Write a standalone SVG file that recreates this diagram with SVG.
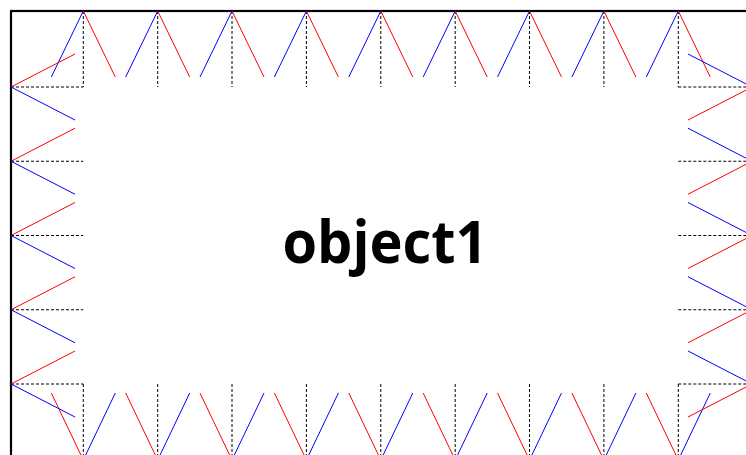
<svg xmlns="http://www.w3.org/2000/svg" width="746" height="455" viewBox="0 0 746 455">
<style>
.r{stroke:#ff0000;stroke-width:1;fill:none}
.b{stroke:#0000ff;stroke-width:1;fill:none}
.d{stroke:#000;stroke-width:1;stroke-dasharray:3,2;fill:none}
.frame{stroke:#000;stroke-width:2.2;fill:#fff}
.lbl{font-family:"Open Sans","Liberation Sans",sans-serif;font-weight:bold;font-size:59px;fill:#000}
</style>
<rect width="746" height="455" fill="#fff"/>
<g id="object1">
<rect class="frame" x="11" y="11" width="741" height="449"/>
<text class="lbl" x="385" y="263" text-anchor="middle" textLength="205" lengthAdjust="spacingAndGlyphs">object1</text>
</g>
<g id="connectors">
<g id="dashes">
<path class="d" d="M83.3,11V87M157.7,11V87M232,11V87M306.4,11V87M380.8,11V87M455.2,11V87M529.5,11V87M603.9,11V87M678.3,11V87"/>
<path class="d" d="M83.3,384V460M157.7,384V460M232,384V460M306.4,384V460M380.8,384V460M455.2,384V460M529.5,384V460M603.9,384V460M678.3,384V460"/>
<path class="d" d="M11,87H83.3M11,161.25H83.3M11,235.5H83.3M11,309.75H83.3M11,384H83.3"/>
<path class="d" d="M678.3,87H752M678.3,161.25H752M678.3,235.5H752M678.3,309.75H752M678.3,384H752"/>
</g>
<g id="top">
<path class="b" d="M51.3,77L83.3,11M125.7,77L157.7,11M200,77L232,11M274.4,77L306.4,11M348.8,77L380.8,11M423.2,77L455.2,11M497.5,77L529.5,11M571.9,77L603.9,11M646.3,77L678.3,11"/>
<path class="r" d="M83.3,11L115.3,77M157.7,11L189.7,77M232,11L264,77M306.4,11L338.4,77M380.8,11L412.8,77M455.2,11L487.2,77M529.5,11L561.5,77M603.9,11L635.9,77M678.3,11L710.3,77"/>
</g>
<g id="bottom">
<path class="r" d="M51.3,393L83.3,460M125.7,393L157.7,460M200,393L232,460M274.4,393L306.4,460M348.8,393L380.8,460M423.2,393L455.2,460M497.5,393L529.5,460M571.9,393L603.9,460M646.3,393L678.3,460"/>
<path class="b" d="M83.3,460L115.3,393M157.7,460L189.7,393M232,460L264,393M306.4,460L338.4,393M380.8,460L412.8,393M455.2,460L487.2,393M529.5,460L561.5,393M603.9,460L635.9,393M678.3,460L710.3,393"/>
</g>
<g id="left">
<path class="r" d="M11,87L75,54M11,161.25L75,128.25M11,235.5L75,202.5M11,309.75L75,276.75M11,384L75,351"/>
<path class="b" d="M11,87L75,120M11,161.25L75,194.25M11,235.5L75,268.5M11,309.75L75,342.75M11,384L75,417"/>
</g>
<g id="right">
<path class="b" d="M688,54L752,87M688,128.25L752,161.25M688,202.5L752,235.5M688,276.75L752,309.75M688,351L752,384"/>
<path class="r" d="M752,87L688,120M752,161.25L688,194.25M752,235.5L688,268.5M752,309.75L688,342.75M752,384L688,417"/>
</g>
</g>
</svg>
